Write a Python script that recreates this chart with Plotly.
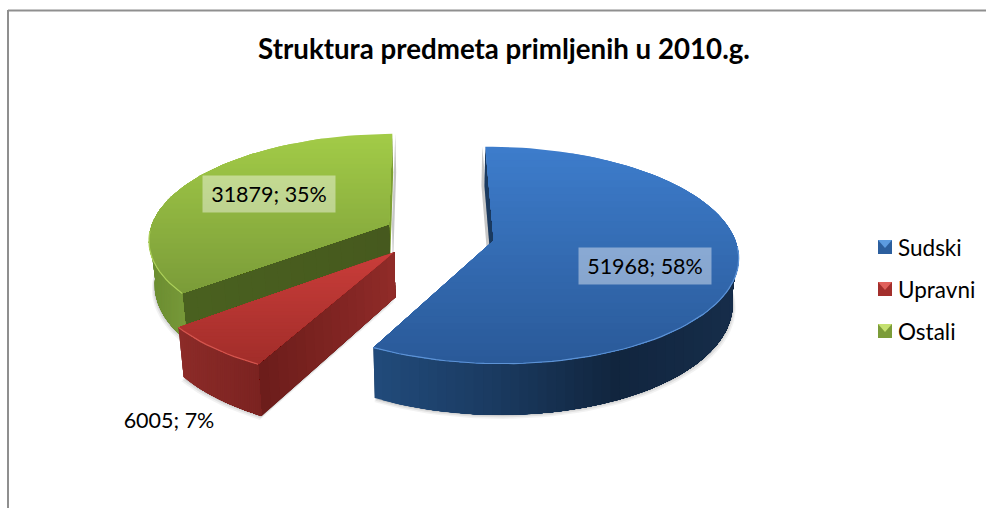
import math
import plotly.graph_objects as go

# ---- data ----
categories = ["Sudski", "Upravni", "Ostali"]
values = [51968, 6005, 31879]
chart_title = "Struktura predmeta primljenih u 2010.g."

# ---- styles ----
FONT = "Lato"
top_ramp = [("#3d7ccb", "#2a5a99"), ("#c93d39", "#a22d2a"), ("#a2cb47", "#7b9c39")]
edge_col = ["#5d93d6", "#d4564f", "#acd05a"]
outer_ramp = [["#214a7a", "#1a3a60", "#11253e", "#162d4a"],
              ["#8c2b28", "#7b2321"],
              ["#6a8c30", "#78993a"]]
start_ramp = ["#1a3a60", "#6f1d1b", "#4a5f20"]
inner_ramp = [("#17304f", "#17304f"), ("#6d1d1b", "#922c29"), ("#49601f", "#46591e")]
end_ramp = ["#1a3a60", "#7a2220", "#7d9f32"]
swatch_col = [("#2c5f9e", "#5c9be0"), ("#a32f2c", "#e0605a"), ("#7b9c39", "#c4e070")]

# ---- projection ----
CX, CY = 441, 233
R, FY, K = 240, 105, 0.135
DEPTH, BOTTOM_SCALE = 44, 0.98
START_DEG = -0.6
EXPLODE = [0.22, 0.27, 0.22]
SLICE_SHIFT = [(1, 2), (-4, -3.5), (-5, 1)]
FRONT_FROM, FRONT_TO = 95, 265
shift = (0, 0)


def project(u, v, bottom=False):
    s = 1 / (1 - K * v)
    x, y = CX + R * u * s, CY + FY * v * s
    if bottom:
        x, y = CX + (x - CX) * BOTTOM_SCALE, y + DEPTH * s
    return x + shift[0], y + shift[1]


def mix(c1, c2, t):
    a = [int(c1[i:i + 2], 16) for i in (1, 3, 5)]
    b = [int(c2[i:i + 2], 16) for i in (1, 3, 5)]
    return "rgb(%d,%d,%d)" % tuple(round(p + (q - p) * t) for p, q in zip(a, b))


def ramp(cols, t):
    t = min(max(t, 0), 1) * (len(cols) - 1)
    i = min(int(t), len(cols) - 2)
    return mix(cols[i], cols[i + 1], t - i)


def clip_min(poly, limit, axis):
    out = []
    for i, p in enumerate(poly):
        q = poly[(i + 1) % len(poly)]
        if p[axis] >= limit:
            out.append(p)
        if (p[axis] >= limit) != (q[axis] >= limit):
            t = (limit - p[axis]) / (q[axis] - p[axis])
            out.append((p[0] + (q[0] - p[0]) * t, p[1] + (q[1] - p[1]) * t))
    return out


fig = go.Figure()


def fill(poly, color, opacity=1.0, name=""):
    if len(poly) < 3:
        return
    xs = [p[0] for p in poly] + [poly[0][0]]
    ys = [p[1] for p in poly] + [poly[0][1]]
    fig.add_trace(go.Scatter(x=xs, y=ys, mode="lines", fill="toself", fillcolor=color,
                             line=dict(width=0), opacity=opacity, hoverinfo="skip",
                             showlegend=False, name=name))


def stroke(pts, color, width=1.0):
    fig.add_trace(go.Scatter(x=[p[0] for p in pts], y=[p[1] for p in pts], mode="lines",
                             line=dict(color=color, width=width), hoverinfo="skip",
                             showlegend=False))


total = sum(values)
angles = []
a = START_DEG
for val in values:
    b = a + 360 * val / total
    angles.append((a, b))
    a = b


def ring_uv(idx, deg):
    a0, a1 = angles[idx]
    mid = math.radians((a0 + a1) / 2)
    th = math.radians(deg)
    return (EXPLODE[idx] * math.sin(mid) + math.sin(th),
            -EXPLODE[idx] * math.cos(mid) - math.cos(th))


def apex_uv(idx):
    a0, a1 = angles[idx]
    mid = math.radians((a0 + a1) / 2)
    return EXPLODE[idx] * math.sin(mid), -EXPLODE[idx] * math.cos(mid)


def draw_slice(idx):
    global shift
    shift = SLICE_SHIFT[idx]
    a0, a1 = angles[idx]
    n = max(6, int(abs(a1 - a0) * 0.5))
    degs = [a0 + (a1 - a0) * i / n for i in range(n + 1)]
    apex = apex_uv(idx)
    ring = [ring_uv(idx, d) for d in degs]

    # soft shadow around the lower outline
    low = [project(*apex, True)] + [project(*p, True) for p in ring]
    for grow, op in ((4, 0.05), (2.5, 0.07), (1, 0.10)):
        fill([(x + (x - CX) * grow / 400, y + grow) for x, y in low], "#000000", op)

    # shadow beside the far cut face
    if idx != 1:
        uv = ring[0] if idx == 0 else ring[-1]
        dx = -3 if idx == 0 else 3
        quad = [project(*apex), project(*uv), project(*uv, True), project(*apex, True)]
        fill([(x + dx, y) for x, y in quad], "#000000", 0.22)

    # cut faces
    for uv, col in ((ring[0], start_ramp[idx]), (ring[-1], end_ramp[idx])):
        fill([project(*apex), project(*uv), project(*uv, True), project(*apex, True)], col)

    if idx in (1, 2):
        face = ring[0]
        cols = inner_ramp[idx]
        steps = 16
        for i in range(steps):
            t0 = i / steps
            q0 = (face[0] + (apex[0] - face[0]) * t0, face[1] + (apex[1] - face[1]) * t0)
            fill([project(*q0), project(*apex), project(*apex, True), project(*q0, True)],
                 mix(cols[0], cols[1], t0))

    # outer wall: the near part of the rim, repainted from left to right
    # so that no seams show
    arc = [p for p, d in zip(ring, degs) if FRONT_FROM <= d <= FRONT_TO]
    wall = [project(*p) for p in arc] + [project(*p, True) for p in reversed(arc)]
    xlo, xhi = min(p[0] for p in wall), max(p[0] for p in wall)
    strips = 40
    for i in range(strips):
        x = xlo + (xhi - xlo) * i / strips
        fill(clip_min(wall, x, 0), ramp(outer_ramp[idx], i / (strips - 1)))

    # top face, painted in horizontal bands
    poly = [project(*apex)] + [project(*p) for p in ring]
    ys = [p[1] for p in poly]
    ylo, yhi = min(ys), max(ys)
    bands = 32
    for i in range(bands):
        y = ylo + (yhi - ylo) * i / bands
        fill(clip_min(poly, y, 1), mix(*top_ramp[idx], i / (bands - 1)))

    # light rim along the near edge
    front = [project(*p) for p, d in zip(ring, degs) if 92 < d % 360 < 268]
    if len(front) > 1:
        stroke(front, edge_col[idx], 1.2)
    shift = (0, 0)


for idx in (2, 1, 0):
    draw_slice(idx)

# ---- data labels ----
label_x = [645, 169, 269]
label_y = [266, 420, 194]
label_w = [132, 110, 132]
label_bg = ["rgba(255,255,255,0.42)", "rgba(0,0,0,0)", "rgba(255,255,255,0.42)"]
annotations = []
for i, val in enumerate(values):
    annotations.append(dict(x=label_x[i], y=label_y[i], xref="x", yref="y", showarrow=False,
                            text=f"{val}; {round(100 * val / total)}%",
                            font=dict(family=FONT, size=21.5, color="#000000"),
                            bgcolor=label_bg[i], width=label_w[i], height=36,
                            align="center", valign="middle", borderpad=0))

# ---- legend ----
legend_y = [247, 289, 331]
for i, name in enumerate(categories):
    x0, x1, y = 878, 892, legend_y[i]
    dark, light = swatch_col[i]
    fill([(x0, y - 7), (x1, y - 7), (x1, y + 7), (x0, y + 7)], dark, name=name)
    fill([(x0, y - 7), (x1, y - 7), ((x0 + x1) / 2, y + 1)], light)
    annotations.append(dict(x=896, y=y, xref="x", yref="y", showarrow=False, xanchor="left",
                            yanchor="middle", text=name,
                            font=dict(family=FONT, size=22.5, color="#000000")))

fig.update_layout(
    width=986, height=508, autosize=False,
    margin=dict(l=0, r=0, t=0, b=0),
    paper_bgcolor="#ffffff", plot_bgcolor="#ffffff", showlegend=False,
    xaxis=dict(range=[0, 986], visible=False, fixedrange=True),
    yaxis=dict(range=[508, 0], visible=False, fixedrange=True),
    title=dict(text=f"<b>{chart_title}</b>", x=504 / 986, xanchor="center", y=1 - 49 / 508,
               yanchor="middle", font=dict(family=FONT, size=27.7, color="#000000")),
    annotations=annotations,
    shapes=[dict(type="line", xref="x", yref="y", x0=8, x1=8, y0=10, y1=508,
                 line=dict(color="#8f8f8f", width=2)),
            dict(type="line", xref="x", yref="y", x0=8, x1=986, y0=10.5, y1=10.5,
                 line=dict(color="#8f8f8f", width=2))],
)
fig.write_html("out.html", config=dict(displayModeBar=False),
               post_script="document.body.style.margin='0';document.body.style.overflow='hidden';")
